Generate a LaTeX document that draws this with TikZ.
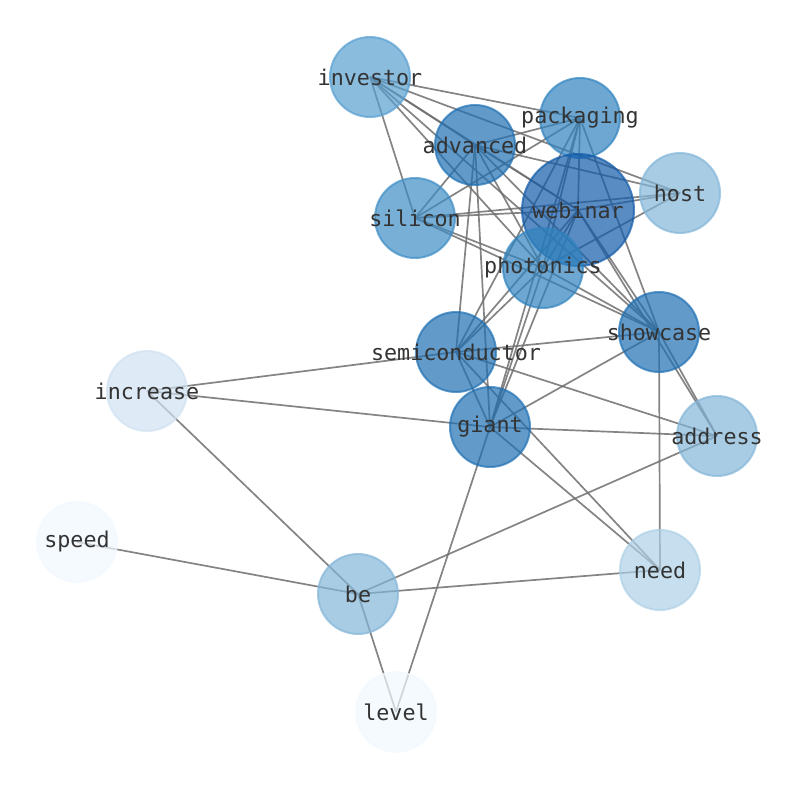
\documentclass[tikz,border=0pt]{standalone}
\usepackage{fontspec}
\setmonofont{DejaVu Sans Mono}
\definecolor{cW}{RGB}{19,91,169}
\definecolor{cA}{RGB}{31,112,179}
\definecolor{cP}{RGB}{48,131,191}
\definecolor{cS}{RGB}{62,141,198}
\definecolor{cI}{RGB}{88,159,208}
\definecolor{cH}{RGB}{131,182,217}
\definecolor{cN}{RGB}{174,208,229}
\definecolor{cC}{RGB}{208,225,241}
\definecolor{cL}{RGB}{241,248,255}
\definecolor{txt}{RGB}{51,51,51}
\definecolor{edg}{RGB}{110,110,110}
\tikzset{
  wnode/.style={circle, minimum size=80pt, inner sep=0pt, line width=2pt, opacity=0.7, fill=#1, draw=#1},
  lbl/.style={text=txt, font=\ttfamily\fontsize{21.7}{24}\selectfont, inner sep=0pt},
  edge/.style={draw=edg, line width=1.7pt, opacity=0.85}
}
\begin{document}
\begin{tikzpicture}[x=1pt,y=-1pt]
\useasboundingbox (0,0) rectangle (794,790);
% coordinates
\coordinate (investor) at (370,77);
\coordinate (packaging) at (580,118);
\coordinate (advanced) at (475,145);
\coordinate (host) at (680,193);
\coordinate (webinar) at (578,210);
\coordinate (silicon) at (415,218);
\coordinate (photonics) at (543,268);
\coordinate (showcase) at (659,332);
\coordinate (semiconductor) at (456,352);
\coordinate (increase) at (147,391);
\coordinate (giant) at (490,427);
\coordinate (address) at (717,436);
\coordinate (speed) at (77,542);
\coordinate (need) at (660,570);
\coordinate (be) at (358,594);
\coordinate (level) at (396,712);
% edges
\foreach \a/\b in {investor/packaging, investor/host, investor/advanced, investor/webinar, investor/photonics, investor/showcase, investor/silicon,
  advanced/packaging, advanced/host, advanced/silicon, advanced/semiconductor, advanced/giant, advanced/photonics, advanced/webinar, advanced/showcase,
  packaging/silicon, packaging/webinar, packaging/photonics, packaging/semiconductor, packaging/giant, packaging/showcase,
  host/silicon, host/webinar, host/photonics,
  silicon/webinar, silicon/photonics, silicon/showcase,
  webinar/semiconductor, webinar/giant, webinar/showcase, webinar/address, webinar/photonics,
  photonics/semiconductor, photonics/giant, photonics/showcase,
  semiconductor/increase, semiconductor/showcase, semiconductor/address, semiconductor/need, semiconductor/giant,
  giant/increase, giant/level, giant/address, giant/showcase, giant/need,
  showcase/address, showcase/need,
  be/increase, be/speed, be/need, be/address, be/level}
  \draw[edge] (\a) -- (\b);
% nodes
\node[wnode=cI] (n-investor) at (investor) {};
\node[wnode=cP] (n-packaging) at (packaging) {};
\node[wnode=cA] (n-advanced) at (advanced) {};
\node[wnode=cH] (n-host) at (host) {};
\node[wnode=cW, minimum size=112pt] (n-webinar) at (webinar) {};
\node[wnode=cS] (n-silicon) at (silicon) {};
\node[wnode=cP] (n-photonics) at (photonics) {};
\node[wnode=cA] (n-showcase) at (showcase) {};
\node[wnode=cA] (n-semiconductor) at (semiconductor) {};
\node[wnode=cC] (n-increase) at (increase) {};
\node[wnode=cA] (n-giant) at (giant) {};
\node[wnode=cH] (n-address) at (address) {};
\node[wnode=cL] (n-speed) at (speed) {};
\node[wnode=cN] (n-need) at (need) {};
\node[wnode=cH] (n-be) at (be) {};
\node[wnode=cL] (n-level) at (level) {};
% labels
\foreach \n in {investor,packaging,advanced,host,webinar,silicon,photonics,showcase,semiconductor,increase,giant,address,speed,need,be,level}
  \node[lbl] (t-\n) at (\n) {\n};
\end{tikzpicture}
\end{document}
